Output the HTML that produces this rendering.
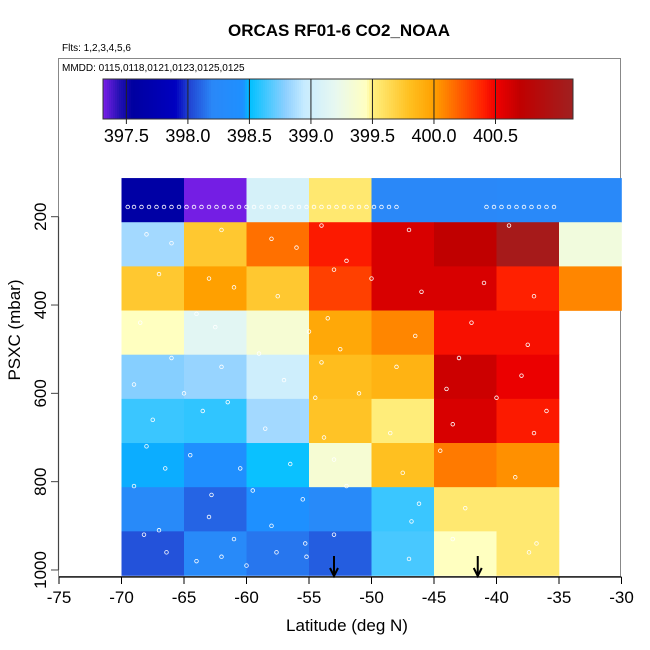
<!DOCTYPE html>
<html><head><meta charset="utf-8">
<style>
html,body{margin:0;padding:0;background:#fff;}
svg{display:block;font-family:"Liberation Sans",Arial,sans-serif;}
</style></head>
<body>
<svg id="chart" width="650" height="650" viewBox="0 0 650 650" xmlns="http://www.w3.org/2000/svg">
<rect x="0" y="0" width="650" height="650" fill="#fff"/>
<text x="339" y="36" text-anchor="middle" font-size="17" font-weight="bold">ORCAS RF01-6 CO2_NOAA</text>
<text x="62" y="51" font-size="10">Flts: 1,2,3,4,5,6</text>
<rect x="58.5" y="58.5" width="562" height="518" fill="none" stroke="#888" stroke-width="1"/>
<text x="62" y="71" font-size="10">MMDD: 0115,0118,0121,0123,0125,0125</text>
<g id="cbar"></g>
<g id="cells"></g>
<g id="pts"></g>
<g id="axes"></g>
<text x="347" y="631" text-anchor="middle" font-size="17">Latitude (deg N)</text>
<text transform="translate(20,330) rotate(-90)" text-anchor="middle" font-size="17">PSXC (mbar)</text>
</svg>
<script>
const latEdges = [-70,-65,-60,-55,-50,-45,-40,-35,-30];
const pressureCenters = [162.5,262.5,362.5,462.5,562.5,662.5,762.5,862.5,962.5];
const co2Row0 = [397.6,397.32,399.05,399.55,398.2,398.2,398.22,398.22];
const co2Row1 = [398.85,399.75,400.15,400.42,400.6,400.7,401.05,399.3];
const co2Row2 = [399.75,400.0,399.75,400.3,400.6,400.6,400.4,400.08];
const co2Row3 = [399.45,399.15,399.35,399.95,400.08,400.45,400.45,null];
const co2Row4 = [398.78,398.82,399.0,399.82,399.88,400.65,400.52,null];
const co2Row5 = [398.62,398.6,398.85,399.78,399.52,400.6,400.42,null];
const co2Row6 = [398.48,398.42,398.52,399.35,399.8,400.12,400.05,null];
const co2Row7 = [398.25,398.1,398.45,398.25,398.62,399.55,399.55,null];
const co2Row8 = [398.05,398.25,398.15,398.08,398.65,399.45,399.55,null];
const co2Rows = [co2Row0,co2Row1,co2Row2,co2Row3,co2Row4,co2Row5,co2Row6,co2Row7,co2Row8];
const xTicks = [-75,-70,-65,-60,-55,-50,-45,-40,-35,-30];
const yTicks = [200,400,600,800,1000];
const cbarTicks = [397.5,398.0,398.5,399.0,399.5,400.0,400.5];
const cbarRange = [397.31,401.13];
const arrowLats = [-53,-41.5];
const legLats = [-69.5,-69,-68.4,-67.8,-67.2,-66.6,-66,-65.4,-64.8,-64.2,-63.6,-63,-62.4,-61.8,-61.2,-60.6,-60,-59.4,-58.8,-58.2,-57.6,-57,-56.4,-55.8,-55.2,-54.6,-54,-53.4,-52.8,-52.2,-51.6,-51,-50.4,-49.8,-49.2,-48.6,-48,-40.8,-40.2,-39.6,-39,-38.4,-37.8,-37.2,-36.6,-36,-35.4];
const legP = 178;
const ptLat = [-68,-66,-62,-58,-56,-54,-52,-47,-39,-67,-63,-61,-57.5,-53,-50,-46,-41,-37,-68.5,-64,-62.5,-55,-53.5,-46.5,-42,-37.5,-66,-62,-59,-54,-52.5,-48,-43,-38,-69,-65,-61.5,-57,-54.5,-51,-44,-40,-36,-67.5,-63.5,-58.5,-53.8,-48.5,-43.5,-37,-68,-64.5,-60.5,-56.5,-53,-47.5,-44.5,-38.5,-66.5,-62.8,-59.5,-55.5,-52,-46.2,-42.5,-69,-67,-63,-61,-58,-55.3,-53,-46.8,-43.5,-36.8,-68.2,-66.4,-64,-62,-60,-57.6,-55.2,-47,-37.4];
const ptP = [240,260,230,250,270,220,300,230,220,330,340,360,380,320,340,370,350,380,440,420,450,460,430,470,440,490,520,540,510,530,500,540,520,560,580,600,620,570,610,600,590,610,640,660,640,680,700,690,670,690,720,740,770,760,750,780,730,790,770,830,820,840,810,850,860,810,910,880,930,900,940,920,890,930,940,920,960,980,970,990,960,970,975,960,990];

const X = v => 59 + (v + 75) * 12.5;
const Y = p => 216.7 + (p - 200) * 0.4416;
const NS = "http://www.w3.org/2000/svg";
function mk(tag, attrs, parent){const e=document.createElementNS(NS,tag);for(const k in attrs)e.setAttribute(k,attrs[k]);parent.appendChild(e);return e;}

const stops = [[397.31,"#7a1fe8"],[397.45,"#2010b0"],[397.55,"#0000a0"],[397.9,"#0000c0"],[398.0,"#2040d0"],[398.2,"#2a88f8"],[398.45,"#1e90ff"],[398.5,"#00c0ff"],[398.8,"#90d0ff"],[398.95,"#c8ecff"],[399.2,"#e8f8f0"],[399.45,"#ffffc0"],[399.5,"#fff080"],[399.8,"#ffc020"],[400.0,"#ffa000"],[400.1,"#ff8000"],[400.4,"#ff2000"],[400.5,"#f00000"],[400.7,"#c00000"],[401.13,"#a02020"]];
function hex(c){return [1,3,5].map(i=>parseInt(c.substr(i,2),16));}
function cmap(v){
  if(v<=stops[0][0])return stops[0][1];
  for(let i=1;i<stops.length;i++){
    if(v<=stops[i][0]){const a=hex(stops[i-1][1]),b=hex(stops[i][1]);const t=(v-stops[i-1][0])/(stops[i][0]-stops[i-1][0]);
      return "rgb("+a.map((x,j)=>Math.round(x+(b[j]-x)*t)).join(",")+")";}
  }
  return stops[stops.length-1][1];
}

const cb=document.getElementById('cbar');
const CX = v => 103 + (v - cbarRange[0]) * (470/(cbarRange[1]-cbarRange[0]));
for(let i=0;i<235;i++){
  const v=cbarRange[0]+(i+0.5)*(cbarRange[1]-cbarRange[0])/235;
  const r=mk('rect',{x:103+i*2,y:79,width:2.4,height:40,fill:cmap(v)},cb);
  
  
}
const cbf=mk('rect',{x:103,y:79,width:470,height:40,fill:'none',stroke:'#333','stroke-width':1},cb);


cbarTicks.forEach(t=>{
  const l=mk('line',{x1:CX(t),x2:CX(t),y1:79,y2:124,stroke:'#222','stroke-width':1},cb);
  
  
  const tx=mk('text',{x:CX(t),y:142,'text-anchor':'middle','font-size':18},cb);
  tx.textContent=t.toFixed(1);
  
  
});

const cg=document.getElementById('cells');
co2Rows.forEach((row,ri)=>{
  row.forEach((v,ci)=>{
    if(v===null)return;
    const x0=X(latEdges[ci]),x1=X(latEdges[ci+1]);
    const y0=Y(pressureCenters[ri]-50),y1=Y(pressureCenters[ri]+50);
    const r=mk('rect',{x:x0,y:y0,width:x1-x0+0.3,height:y1-y0+0.3,fill:cmap(v)},cg);
    
    
  });
});

const pg=document.getElementById('pts');
legLats.forEach(la=>{
  const c=mk('circle',{cx:X(la),cy:Y(legP),r:1.8,fill:'none',stroke:'#fff','stroke-width':0.8},pg);
  
  
});
ptLat.forEach((la,i)=>{
  const c=mk('circle',{cx:X(la),cy:Y(ptP[i]),r:1.8,fill:'none',stroke:'#fff','stroke-width':0.8},pg);
  
  
});

const ax=document.getElementById('axes');
const xl=mk('line',{x1:X(-75),x2:X(-30),y1:577,y2:577,stroke:'#000','stroke-width':1.2},ax);


xTicks.forEach(t=>{
  const l=mk('line',{x1:X(t),x2:X(t),y1:577,y2:584,stroke:'#000'},ax);
  
  
  const tx=mk('text',{x:X(t),y:603,'text-anchor':'middle','font-size':17},ax);
  tx.textContent=t;
  
  
});
const yl=mk('line',{x1:58.5,x2:58.5,y1:Y(200),y2:Y(1000),stroke:'#444','stroke-width':1.2},ax);


yTicks.forEach(t=>{
  const l=mk('line',{x1:51,x2:58.5,y1:Y(t),y2:Y(t),stroke:'#444'},ax);
  
  
  const tx=mk('text',{transform:`translate(46,${Y(t)}) rotate(-90)`,'text-anchor':'middle','font-size':17},ax);
  tx.textContent=t;
  
  
});
arrowLats.forEach(la=>{
  const g=mk('g',{stroke:'#000','stroke-width':2,fill:'none'},ax);
  
  
  mk('line',{x1:X(la),x2:X(la),y1:556,y2:576},g);
  mk('polyline',{points:`${X(la)-4},568 ${X(la)},576 ${X(la)+4},568`},g);
});
</script>
</body></html>
